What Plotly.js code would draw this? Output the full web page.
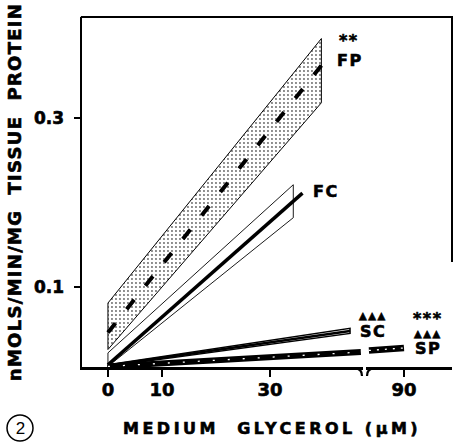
<!DOCTYPE html>
<html>
<head>
<meta charset="utf-8">
<script src="https://cdn.plot.ly/plotly-3.0.1.min.js"></script>
<style>
  html, body { margin: 0; padding: 0; background: #fff; }
  .annotation-text { letter-spacing: 1.5px; stroke: #000; stroke-width: 0.6px; }
  .ytitle { letter-spacing: 1.3px; stroke: #000; stroke-width: 0.6px; }
  .xtick text, .ytick text, .x2tick text { stroke: #000; stroke-width: 0.6px; }
  g.annotation[data-index="8"] .annotation-text { letter-spacing: 3.5px; }
  g.annotation[data-index="9"] .annotation-text { letter-spacing: 0; stroke: none; }
</style>
</head>
<body>
<div id="chart" style="width:456px;height:443px;"></div>
<script>
// ---- data ----
const xTickVals = [0, 10, 30];
const xTickText = ["0", "10", "30"];
const x2TickVals = [90];
const x2TickText = ["90"];
const yTickVals = [0.1, 0.3];
const yTickText = ["0.1", "0.3"];

// FP : dashed mean, stippled band
const fpX = [0, 39.5];
const fpMean = [0.046, 0.362];
const fpUpper = [0.081, 0.394];
const fpLower = [0.026, 0.318];

// FC : solid mean, open band
const fcBandX = [0, 34.3];
const fcUpper = [0.022, 0.221];
const fcLower = [0.006, 0.182];
const fcLineX = [0, 36];
const fcMean = [0.008, 0.211];

// SC
const scX = [0, 44.8];
const scMean = [0.007, 0.048];
const scUpper = [0.008, 0.051];
const scLower = [0.006, 0.045];

// SP (two segments across the axis break)
const spX = [0, 46.8];
const spMean = [0.006, 0.023];
const spX2 = [83.5, 90];
const spMean2 = [0.0249, 0.0278];

const labelTexts = ["**", "FP", "FC", "\u25B2\u25B2\u25B2", "SC", "***", "\u25B2\u25B2\u25B2", "SP"];
const xTitle = "MEDIUM  GLYCEROL (\u03BCM)";
const yTitle = "nMOLS/MIN/MG  TISSUE  PROTEIN";
const panelLabel = "2";

// ---- helpers ----
function band(x, up, lo) {
  return { x: [x[0], x[1], x[1], x[0], x[0]], y: [up[0], up[1], lo[1], lo[0], up[0]] };
}
const L = 82, T = 17, W = 370, H = 350;
function P(px, py) { return { x: (px - L) / W, y: (T + H - py) / H, xref: 'paper', yref: 'paper' }; }

const fpB = band(fpX, fpUpper, fpLower);
const fcB = band(fcBandX, fcUpper, fcLower);
const scB = band(scX, scUpper, scLower);

const traces = [
  { x: fpB.x, y: fpB.y, mode: 'lines', fill: 'toself', fillcolor: 'rgba(0,0,0,0)',
    fillpattern: { shape: '.', size: 4, solidity: 0.18, fgcolor: '#666', bgcolor: 'rgba(255,255,255,0)' },
    line: { color: '#000', width: 1 }, hoverinfo: 'skip' },
  { x: fcB.x, y: fcB.y, mode: 'lines', line: { color: '#000', width: 0.9 }, hoverinfo: 'skip' },
  { x: fpX, y: fpMean, mode: 'lines', line: { color: '#000', width: 4, dash: '12px,18px' } },
  { x: fcLineX, y: fcMean, mode: 'lines', line: { color: '#000', width: 3.5 } },
  { x: scB.x, y: scB.y, mode: 'lines', fill: 'toself', fillcolor: '#fff', line: { color: '#000', width: 1.5 }, hoverinfo: 'skip' },
  { x: scX, y: scMean, mode: 'lines', line: { color: '#000', width: 2.5 } },
  { x: spX, y: spMean, mode: 'lines', line: { color: '#000', width: 6 } },
  { x: spX, y: spMean, mode: 'lines', line: { color: '#fff', width: 1.3, dash: '2px,13px' } },
  { x: spX2, y: spMean2, xaxis: 'x2', mode: 'lines', line: { color: '#000', width: 6.5 } },
  { x: spX2, y: spMean2, xaxis: 'x2', mode: 'lines', line: { color: '#fff', width: 1.3, dash: '2px,6px' } }
];

const tickFont = { family: 'DejaVu Sans', size: 18, color: '#000', weight: 'bold' };
const axBase = {
  showline: true, linecolor: '#000', linewidth: 2.5, showgrid: false, zeroline: false,
  ticks: 'outside', ticklen: 7, tickwidth: 2, tickcolor: '#000', tickfont: tickFont,
  tickmode: 'array', fixedrange: true, ticklabelstandoff: -2
};

const lab = (i, px, py, size) => Object.assign(P(px, py), {
  text: labelTexts[i], showarrow: false, xanchor: 'center', yanchor: 'middle',
  font: { family: 'DejaVu Sans', size: size, color: '#000', weight: 'bold' }
});

const layout = {
  width: 456, height: 443,
  margin: { l: L, r: 456 - L - W, t: T, b: 443 - T - H },
  paper_bgcolor: '#fff', plot_bgcolor: '#fff',
  showlegend: false,
  xaxis: Object.assign({}, axBase, { domain: [0, (363 - L) / W], range: [-4.8, 47.2],
    tickvals: xTickVals, ticktext: xTickText, anchor: 'y' }),
  xaxis2: Object.assign({}, axBase, { domain: [(366 - L) / W, 1], range: [82.96, 98.9],
    tickvals: x2TickVals, ticktext: x2TickText, anchor: 'y' }),
  yaxis: Object.assign({}, axBase, { range: [0.0053, 0.4195], tickvals: yTickVals, ticktext: yTickText,
    ticklen: 6, ticklabelstandoff: 6, tickfont: Object.assign({}, tickFont, { size: 17 }),
    title: { text: yTitle, standoff: 8, font: { family: 'DejaVu Sans', size: 18, color: '#000', weight: 'bold' } } }),
  shapes: [
    { type: 'line', xref: 'paper', yref: 'paper', x0: -0.003, x1: 1, y0: 1, y1: 1, line: { color: '#000', width: 2 } },
    { type: 'line', xref: 'paper', yref: 'paper', x0: 1, x1: 1, y0: 1.003, y1: (T + H - 262) / H, line: { color: '#000', width: 2 } },
    { type: 'path', xref: 'paper', yref: 'paper',
      path: 'M ' + ((355 - L) / W) + ',-0.004 Q ' + ((362 - L) / W) + ',-0.004 ' + ((362 - L) / W) + ',-0.026',
      line: { color: '#000', width: 2.2 } },
    { type: 'path', xref: 'paper', yref: 'paper',
      path: 'M ' + ((374 - L) / W) + ',-0.004 Q ' + ((367 - L) / W) + ',-0.004 ' + ((367 - L) / W) + ',-0.026',
      line: { color: '#000', width: 2.2 } },
    { type: 'circle', xref: 'paper', yref: 'paper',
      x0: (7 - L) / W, x1: (33 - L) / W, y0: (T + H - 441) / H, y1: (T + H - 415) / H,
      line: { color: '#000', width: 1.5 } }
  ],
  annotations: [
    lab(0, 349, 40, 16),
    lab(1, 350, 60, 16),
    lab(2, 326, 191, 16),
    lab(3, 373, 315, 10),
    lab(4, 373, 331, 16),
    lab(5, 428, 318, 16),
    lab(6, 428, 333, 10),
    lab(7, 428, 348, 16),
    Object.assign(P(272, 428), { text: xTitle, showarrow: false, xanchor: 'center', yanchor: 'middle',
      font: { family: 'DejaVu Sans', size: 16, color: '#000', weight: 'bold' } }),
    Object.assign(P(20, 428), { text: panelLabel, showarrow: false, xanchor: 'center', yanchor: 'middle',
      font: { family: 'Liberation Sans Narrow, Liberation Sans, sans-serif', size: 17, color: '#000' } })
  ]
};

Plotly.newPlot('chart', traces, layout, { displayModeBar: false, staticPlot: true });
</script>
</body>
</html>
